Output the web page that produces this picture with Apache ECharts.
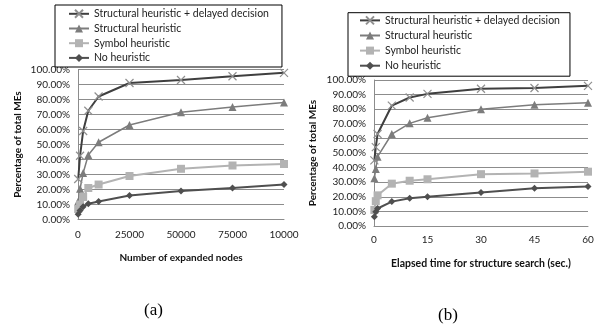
<!DOCTYPE html>
<html>
<head>
<meta charset="utf-8">
<script src="https://cdn.jsdelivr.net/npm/echarts@6/dist/echarts.min.js"></script>
<style>
html,body{margin:0;padding:0;background:#fff;}
#c{width:597px;height:329px;}
</style>
</head>
<body>
<div id="c"></div>
<script>
// ---- Data ----
const seriesNames = ['Structural heuristic + delayed decision', 'Structural heuristic', 'Symbol heuristic', 'No heuristic'];

// Chart (a): Number of expanded nodes
const nodesA = [100, 1000, 2500, 5000, 10000, 25000, 50000, 75000, 100000];
const delayedA = [27, 42.5, 59, 72.5, 82, 91, 93, 95.5, 97.8];
const structuralA = [12, 20.5, 31, 43, 51.5, 63, 71.5, 75, 78];
const symbolA = [7, 10, 15, 21, 23.3, 29, 33.8, 36, 37];
const noHeurA = [3.5, 6, 8.5, 10.5, 12, 16, 19, 21, 23.3];
const xTicksA = [0, 25000, 50000, 75000, 100000];
const xTickLabelsA = ['0', '25000', '50000', '75000', '10000'];

// Chart (b): Elapsed time for structure search (sec.)
const timeB = [0.1, 0.5, 1, 5, 10, 15, 30, 45, 60];
const delayedB = [45, 54, 63, 82.5, 88, 90.5, 94, 94.5, 96];
const structuralB = [32.7, 39, 47.5, 63, 70.3, 74.2, 80, 83, 84.5];
const symbolB = [11, 17, 21, 29, 31, 32, 35.5, 36, 37.2];
const noHeurB = [6.4, 9.8, 12, 16.7, 19, 20, 23, 25.8, 27];
const xTickLabelsB = ['0', '15', '30', '45', '60'];

const yTickLabels = ['0.00%','10.00%','20.00%','30.00%','40.00%','50.00%','60.00%','70.00%','80.00%','90.00%','100.00%'];

// ---- Styles ----
const FONT = 'Lato';
const GRID_COLOR = '#8c8c8c';
const styles = [
  {line: '#3f3f3f', sym: 'path://M0,0L10,10M10,0L0,10', size: 8, fill: '#8f8f8f', lw: 2},
  {line: '#7c7c7c', sym: 'triangle', size: 8, fill: '#7c7c7c', lw: 1.5},
  {line: '#b3b3b3', sym: 'rect', size: 8, fill: '#b3b3b3', lw: 2},
  {line: '#4f4f4f', sym: 'diamond', size: 7, fill: '#4f4f4f', lw: 2}
];

function pairs(xs, ys) { return xs.map((x, i) => [x, ys[i]]); }

function makeSeries(idx, xs, ys, axisIdx) {
  const s = styles[idx];
  const isX = idx === 0;
  return {
    name: seriesNames[idx],
    type: 'line',
    xAxisIndex: axisIdx,
    yAxisIndex: axisIdx,
    data: pairs(xs, ys),
    symbol: s.sym,
    symbolSize: s.size,
    showSymbol: true,
    showAllSymbol: true,
    smooth: false,
    lineStyle: {color: s.line, width: s.lw},
    itemStyle: isX ? {color: s.fill, borderColor: s.fill, borderWidth: 1.2} : {color: s.fill, borderWidth: 0},
    emphasis: {disabled: true},
    animation: false
  };
}

function yAxisDef(gridIndex, nameGap) {
  return {
    type: 'value', gridIndex: gridIndex, min: 0, max: 100, interval: 10,
    name: 'Percentage of total MEs', nameLocation: 'middle', nameGap: nameGap,
    nameMoveOverlap: false,
    nameTextStyle: {fontFamily: FONT, fontSize: 10, fontWeight: 'bold', color: '#111'},
    axisLine: {show: true, lineStyle: {color: GRID_COLOR, width: 1}},
    axisTick: {show: false},
    splitLine: {show: true, lineStyle: {color: GRID_COLOR, width: 1}},
    axisLabel: {
      fontFamily: FONT, fontSize: 10, color: '#222', margin: 8,
      formatter: v => yTickLabels[Math.round(v / 10)]
    }
  };
}

const legendCommon = {
  orient: 'vertical',
  itemWidth: 20,
  itemHeight: 10,
  borderColor: '#000',
  borderWidth: 1,
  backgroundColor: '#fff',
  selectedMode: false,
  textStyle: {fontFamily: FONT, fontSize: 10.5, color: '#222', lineHeight: 10},
  data: seriesNames
};

const option = {
  animation: false,
  backgroundColor: '#fff',
  grid: [
    {left: 78, top: 69.5, width: 206, height: 150},
    {left: 374, top: 80, width: 214, height: 146}
  ],
  xAxis: [
    {
      type: 'value', gridIndex: 0, min: 0, max: 100000, interval: 25000,
      name: 'Number of expanded nodes', nameLocation: 'middle', nameGap: 33,
      nameTextStyle: {fontFamily: FONT, fontSize: 10, fontWeight: 'bold', color: '#111'},
      axisLine: {show: true, lineStyle: {color: GRID_COLOR}},
      axisTick: {show: false},
      splitLine: {show: false},
      axisLabel: {
        fontFamily: FONT, fontSize: 10, color: '#222', margin: 10,
        showMinLabel: true, showMaxLabel: true,
        formatter: v => xTickLabelsA[xTicksA.indexOf(v)]
      }
    },
    {
      type: 'value', gridIndex: 1, min: 0, max: 60, interval: 15,
      name: 'Elapsed time for structure search (sec.)', nameLocation: 'middle', nameGap: 32,
      nameTextStyle: {fontFamily: FONT, fontSize: 10.5, fontWeight: 'bold', color: '#111'},
      axisLine: {show: true, lineStyle: {color: GRID_COLOR}},
      axisTick: {show: false},
      splitLine: {show: false},
      axisLabel: {
        fontFamily: FONT, fontSize: 10, color: '#222', margin: 9,
        showMinLabel: true, showMaxLabel: true,
        formatter: v => xTickLabelsB[Math.round(v / 15)]
      }
    }
  ],
  yAxis: [yAxisDef(0, 55), yAxisDef(1, 56)],
  legend: [
    Object.assign({}, legendCommon, {left: 55, top: 5, itemGap: 3.7, padding: [3.3, 13, 3.6, 13]}),
    Object.assign({}, legendCommon, {left: 348, top: 12.7, itemGap: 4.1, padding: [2.2, 10, 5, 11]})
  ],
  series: [
    makeSeries(0, nodesA, delayedA, 0),
    makeSeries(1, nodesA, structuralA, 0),
    makeSeries(2, nodesA, symbolA, 0),
    makeSeries(3, nodesA, noHeurA, 0),
    makeSeries(0, timeB, delayedB, 1),
    makeSeries(1, timeB, structuralB, 1),
    makeSeries(2, timeB, symbolB, 1),
    makeSeries(3, timeB, noHeurB, 1)
  ],
  graphic: [
    {type: 'text', left: 158 - 14, top: 302, style: {text: '(a)', font: '17px "Liberation Serif"', fill: '#000'}},
    {type: 'text', left: 452 - 14, top: 307, style: {text: '(b)', font: '17px "Liberation Serif"', fill: '#000'}}
  ]
};

const chart = echarts.init(document.getElementById('c'), null, {renderer: 'canvas'});
chart.setOption(option);
</script>
</body>
</html>
